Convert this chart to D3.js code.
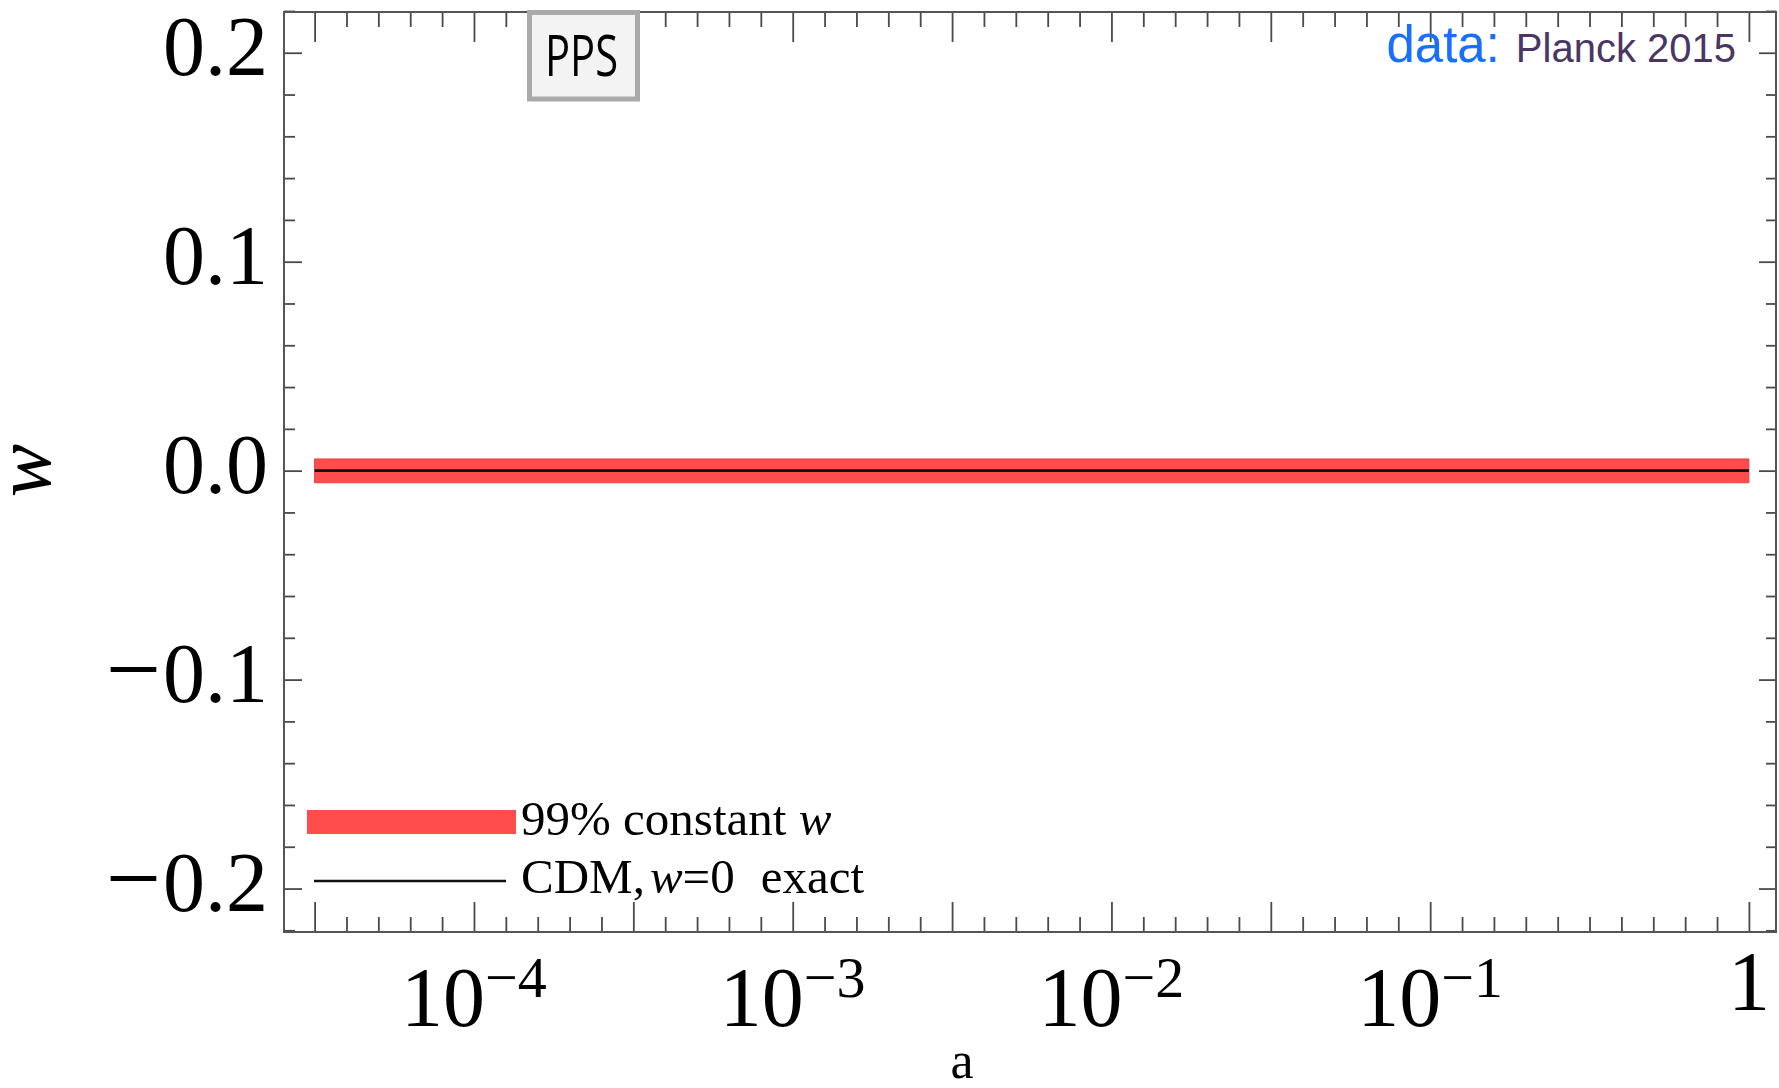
<!DOCTYPE html>
<html>
<head>
<meta charset="utf-8">
<script src="https://cdn.jsdelivr.net/npm/d3@7"></script>
<style>
  body { margin: 0; background: #fff; }
  svg { display: block; }
</style>
</head>
<body>
<script>
// band of constant w allowed at 99%, and the exact CDM line
const bandA = [Math.pow(10, -4.5), 1];
const bandLow = [-0.0058, -0.0058];
const bandHigh = [0.0056, 0.0056];
const cdmW = [0, 0];

const xMajorExp = [-4.5, -4, -3.5, -3, -2.5, -2, -1.5, -1, 0];
const xLabelExp = [-4, -3, -2, -1, 0];
const yMajor = [-0.2, -0.1, 0, 0.1, 0.2];
const yLabels = ['0.2', '0.1', '0.0', '0.1', '0.2'];

const legendLabels = ['99% constant ', 'CDM,'];

const width = 1779, height = 1088;
const frameL = 284, frameR = 1776, frameT = 12, frameB = 932;

const svg = d3.select('body')
  .append('svg')
  .attr('width', width)
  .attr('height', height);

const x = d3.scaleLog()
  .domain([Math.pow(10, -4.596), Math.pow(10, 0.085)])
  .range([frameL, frameR]);

const y = d3.scaleLinear()
  .domain([-0.2208, 0.2195])
  .range([frameB, frameT]);

// minor ticks every 0.1 in log10 a, 0.02 in w
const xMinor = d3.range(-45, 1).map((k) => k / 10)
  .filter((e) => !xMajorExp.some((m) => Math.abs(m - e) < 1e-9))
  .map((e) => Math.pow(10, e));
const xMajor = xMajorExp.map((e) => Math.pow(10, e));
const yMinor = d3.range(-11, 12).map((k) => k * 0.02)
  .filter((v) => !yMajor.some((m) => Math.abs(m - v) < 1e-9));

// data
const band = d3.area()
  .x((d, i) => x(bandA[i]))
  .y0((d, i) => y(bandLow[i]))
  .y1((d, i) => y(bandHigh[i]));

svg.append('path')
  .datum(bandA)
  .attr('d', band)
  .attr('fill', '#ff4c4c')
  .attr('stroke', '#ea4040')
  .attr('stroke-width', 1);

const line = d3.line()
  .x((d, i) => x(bandA[i]))
  .y((d) => y(d));

svg.append('path')
  .datum(cdmW)
  .attr('d', line)
  .attr('fill', 'none')
  .attr('stroke', '#111')
  .attr('stroke-width', 2.6);

// ticks (inward, on all four sides)
function ticks(axis, values, size, tx, ty) {
  const g = svg.append('g')
    .attr('transform', 'translate(' + tx + ',' + ty + ')')
    .call(axis.tickValues(values).tickSize(size).tickSizeOuter(0).tickFormat(''));
  g.select('.domain').remove();
  g.selectAll('line').attr('stroke', '#4a4a4a').attr('stroke-width', 1.8);
}
ticks(d3.axisBottom(x), xMajor, -30, 0, frameB);
ticks(d3.axisBottom(x), xMinor, -15, 0, frameB);
ticks(d3.axisTop(x), xMajor, -30, 0, frameT);
ticks(d3.axisTop(x), xMinor, -15, 0, frameT);
ticks(d3.axisLeft(y), yMajor, -18, frameL, 0);
ticks(d3.axisLeft(y), yMinor, -11, frameL, 0);
ticks(d3.axisRight(y), yMajor, -17, frameR, 0);
ticks(d3.axisRight(y), yMinor, -10, frameR, 0);

svg.append('rect')
  .attr('x', frameL)
  .attr('y', frameT)
  .attr('width', frameR - frameL)
  .attr('height', frameB - frameT)
  .attr('fill', 'none')
  .attr('stroke', '#555')
  .attr('stroke-width', 2);

// tick labels
const serif = '"Liberation Serif", "Times New Roman", serif';

svg.selectAll('.ylab')
  .data(yMajor)
  .enter()
  .append('text')
  .attr('class', 'ylab')
  .attr('x', frameL - 16)
  .attr('y', (d) => y(d) + 22)
  .attr('text-anchor', 'end')
  .attr('font-family', serif)
  .attr('font-size', 84)
  .each(function(d, i) {
    const t = d3.select(this);
    if (d < 0) {
      t.append('tspan').attr('font-size', 98).text('\u2212');
      t.append('tspan').attr('dx', 2).text(yLabels[i]);
    } else {
      t.text(yLabels[i]);
    }
  });

xLabelExp.forEach((e) => {
  const t = svg.append('text')
    .attr('x', x(Math.pow(10, e)))
    .attr('text-anchor', 'middle')
    .attr('font-family', serif)
    .attr('font-size', 84);
  if (e === 0) {
    t.attr('y', frameB + 78).text('1');
  } else {
    t.attr('y', frameB + 94);
    t.append('tspan').text('10');
    t.append('tspan')
      .attr('dy', -29)
      .attr('font-size', 58)
      .text('\u2212' + Math.abs(e));
  }
});

// axis titles
svg.append('text')
  .attr('x', 962)
  .attr('y', 1078)
  .attr('text-anchor', 'middle')
  .attr('font-family', serif)
  .attr('font-size', 52)
  .text('a');

svg.append('text')
  .attr('transform', 'translate(50,' + y(0) + ') rotate(-90)')
  .attr('text-anchor', 'middle')
  .attr('font-family', serif)
  .attr('font-style', 'italic')
  .attr('font-size', 80)
  .text('w');

// legend
svg.append('rect')
  .attr('x', 307)
  .attr('y', 810)
  .attr('width', 209)
  .attr('height', 24)
  .attr('fill', '#ff4c4c');

svg.append('line')
  .attr('x1', 314)
  .attr('x2', 506)
  .attr('y1', 881)
  .attr('y2', 881)
  .attr('stroke', '#111')
  .attr('stroke-width', 2.6);

const leg1 = svg.append('text')
  .attr('x', 521)
  .attr('y', 835)
  .attr('font-family', serif)
  .attr('font-size', 49);
leg1.append('tspan').text(legendLabels[0]);
leg1.append('tspan').attr('font-style', 'italic').text('w');

const leg2 = svg.append('text')
  .attr('x', 521)
  .attr('y', 893)
  .attr('font-family', serif)
  .attr('font-size', 49);
leg2.append('tspan').text(legendLabels[1]);
leg2.append('tspan').attr('dx', 5).attr('font-style', 'italic').text('w');
leg2.append('tspan').text('=0');
leg2.append('tspan').attr('dx', 26).text('exact');

// PPS tag
svg.append('rect')
  .attr('x', 529.5)
  .attr('y', 12.5)
  .attr('width', 108)
  .attr('height', 86.5)
  .attr('fill', '#f3f3f3')
  .attr('stroke', '#aaa')
  .attr('stroke-width', 5);

svg.append('text')
  .attr('x', 545)
  .attr('y', 76)
  .attr('font-family', '"Open Sans", sans-serif')
  .attr('font-size', 56)
  .attr('textLength', 73)
  .attr('lengthAdjust', 'spacingAndGlyphs')
  .attr('fill', '#000')
  .text('PPS');

// data source
const src = svg.append('text')
  .attr('x', 1736)
  .attr('y', 62)
  .attr('text-anchor', 'end')
  .attr('font-family', '"Liberation Sans", Arial, sans-serif');
src.append('tspan').attr('font-size', 51).attr('fill', '#1a6fff').text('data:');
src.append('tspan').attr('dx', 16).attr('font-size', 40).attr('fill', '#4b3563').text('Planck 2015');
</script>
</body>
</html>
